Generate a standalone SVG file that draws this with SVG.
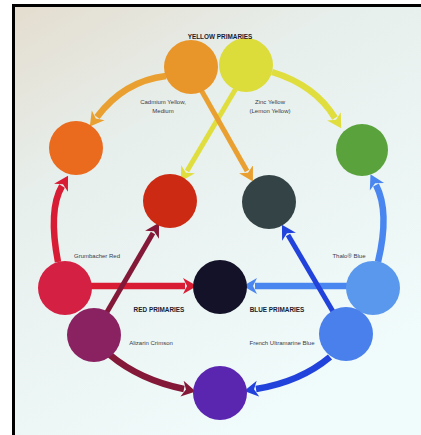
<svg xmlns="http://www.w3.org/2000/svg" width="421" height="435" viewBox="0 0 421 435">
<defs>
<linearGradient id="bg" x1="0" y1="0" x2="0.55" y2="1">
<stop offset="0" stop-color="#e4ddcf"/>
<stop offset="0.35" stop-color="#e7efec"/>
<stop offset="1" stop-color="#f0fbfb"/>
</linearGradient>
<marker id="aOr" viewBox="-10 -9 14 18" refX="-8" refY="0" markerWidth="14" markerHeight="18" markerUnits="userSpaceOnUse" orient="auto"><path d="M-10,-8 L4,0 L-10,8 L-6,0 Z" fill="#eaa030"/></marker>
<marker id="aYe" viewBox="-10 -9 14 18" refX="-8" refY="0" markerWidth="14" markerHeight="18" markerUnits="userSpaceOnUse" orient="auto"><path d="M-10,-8 L4,0 L-10,8 L-6,0 Z" fill="#e0de3e"/></marker>
<marker id="aRd" viewBox="-10 -9 14 18" refX="-8" refY="0" markerWidth="14" markerHeight="18" markerUnits="userSpaceOnUse" orient="auto"><path d="M-10,-8 L4,0 L-10,8 L-6,0 Z" fill="#d81c34"/></marker>
<marker id="aMa" viewBox="-10 -9 14 18" refX="-8" refY="0" markerWidth="14" markerHeight="18" markerUnits="userSpaceOnUse" orient="auto"><path d="M-10,-8 L4,0 L-10,8 L-6,0 Z" fill="#841838"/></marker>
<marker id="aLb" viewBox="-10 -9 14 18" refX="-8" refY="0" markerWidth="14" markerHeight="18" markerUnits="userSpaceOnUse" orient="auto"><path d="M-10,-8 L4,0 L-10,8 L-6,0 Z" fill="#4a86f0"/></marker>
<marker id="aDb" viewBox="-10 -9 14 18" refX="-8" refY="0" markerWidth="14" markerHeight="18" markerUnits="userSpaceOnUse" orient="auto"><path d="M-10,-8 L4,0 L-10,8 L-6,0 Z" fill="#2242dc"/></marker>
</defs>
<style>
.c{fill:none;stroke-width:6.5;stroke-linecap:butt}
.d{fill:none;stroke-width:5}
.lbl{font-family:"Liberation Sans",Arial,sans-serif;font-size:6px;fill:#3a3a48;text-anchor:middle}
.hd{font-family:"Liberation Sans",Arial,sans-serif;font-size:6.4px;font-weight:bold;fill:#1c1c30;text-anchor:middle}
</style>
<rect x="0" y="0" width="421" height="435" fill="#ffffff"/>
<rect x="12" y="4" width="409" height="431" fill="#000"/>
<rect x="15" y="7" width="406" height="428" fill="url(#bg)"/>

<g id="connectors">
<path class="c" d="M166,76 Q124,81 97,117" stroke="#eaa030" marker-end="url(#aOr)"/>
<path class="c" d="M272,72 Q315,85 335,118" stroke="#e0de3e" marker-end="url(#aYe)"/>
<path class="d" d="M238,85 L187,171" stroke="#e0de3e" marker-end="url(#aYe)"/>
<path class="d" d="M200,88 L247,171" stroke="#eaa030" marker-end="url(#aOr)"/>
<path class="c" d="M58,262 Q48,210 62,186" stroke="#d81c34" marker-end="url(#aRd)"/>
<path class="c" d="M90,286 L185,286" stroke="#d81c34" marker-end="url(#aRd)"/>
<path class="d" d="M100,324 L153,233" stroke="#841838" marker-end="url(#aMa)"/>
<path class="c" d="M110,355 Q140,380 184,389" stroke="#841838" marker-end="url(#aMa)"/>
<path class="c" d="M378,262 Q390,212 376,185" stroke="#4a86f0" marker-end="url(#aLb)"/>
<path class="c" d="M347,286 L255,286" stroke="#4a86f0" marker-end="url(#aLb)"/>
<path class="d" d="M335,315 L288,235" stroke="#2242dc" marker-end="url(#aDb)"/>
<path class="c" d="M330,357 Q300,382 256,389" stroke="#2242dc" marker-end="url(#aDb)"/>
</g>

<g id="cadmium-yellow"><circle cx="191" cy="67" r="27" fill="#e8962a"/></g>
<g id="zinc-yellow"><circle cx="246" cy="65" r="27" fill="#dcdc3a"/></g>
<g id="orange"><circle cx="76" cy="148" r="27" fill="#ea6a1e"/></g>
<g id="green"><circle cx="362" cy="150" r="26" fill="#5aa23c"/></g>
<g id="red"><circle cx="170" cy="201" r="27" fill="#cc2a12"/></g>
<g id="dark-green"><circle cx="269" cy="202" r="27" fill="#344446"/></g>
<g id="grumbacher-red"><circle cx="65" cy="288" r="27" fill="#d42042"/></g>
<g id="black"><circle cx="220" cy="287" r="27" fill="#141228"/></g>
<g id="thalo-blue"><circle cx="373" cy="288" r="27" fill="#5a98ee"/></g>
<g id="alizarin-crimson"><circle cx="94" cy="335" r="27" fill="#8a2262"/></g>
<g id="french-ultramarine"><circle cx="346" cy="334" r="27" fill="#4a80ec"/></g>
<g id="violet"><circle cx="220" cy="393" r="27" fill="#5a26b0"/></g>

<g id="labels">
<text class="hd" x="220" y="39">YELLOW PRIMARIES</text>
<text class="lbl" x="163" y="104">Cadmium Yellow,</text>
<text class="lbl" x="163" y="113">Medium</text>
<text class="lbl" x="270" y="104">Zinc Yellow</text>
<text class="lbl" x="270" y="113">(Lemon Yellow)</text>
<text class="lbl" x="97" y="258">Grumbacher Red</text>
<text class="lbl" x="349" y="258">Thalo® Blue</text>
<text class="hd" x="159" y="312">RED PRIMARIES</text>
<text class="hd" x="277" y="312">BLUE PRIMARIES</text>
<text class="lbl" x="151" y="345">Alizarin Crimson</text>
<text class="lbl" x="282" y="345">French Ultramarine Blue</text>
</g>
</svg>
